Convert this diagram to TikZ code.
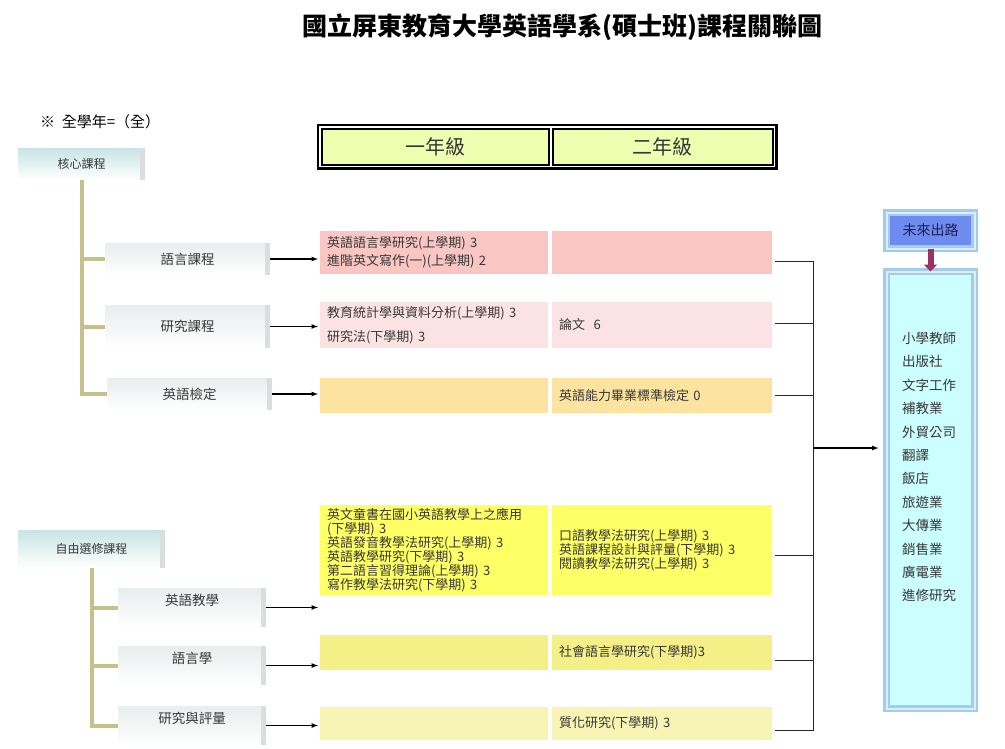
\documentclass[tikz,border=0pt]{standalone}
\usepackage{fontspec}
\setmainfont{Noto Sans CJK TC}
\usetikzlibrary{fit,arrows.meta}
\definecolor{stem}{RGB}{200,192,140}
\definecolor{hdrfill}{RGB}{238,255,176}
\definecolor{rowA}{RGB}{249,198,196}
\definecolor{rowB}{RGB}{252,227,227}
\definecolor{rowC}{RGB}{252,228,160}
\definecolor{rowD}{RGB}{255,255,102}
\definecolor{rowE}{RGB}{245,239,136}
\definecolor{rowF}{RGB}{248,244,180}
\definecolor{coretop}{RGB}{200,228,228}
\definecolor{subtop}{RGB}{232,237,237}
\definecolor{rim}{RGB}{218,222,222}
\definecolor{skyline}{RGB}{160,204,240}
\definecolor{skyfill}{RGB}{204,255,255}
\definecolor{futfill}{RGB}{110,140,240}
\definecolor{futink}{RGB}{30,30,80}
\definecolor{plum}{RGB}{153,51,102}
\definecolor{ink}{RGB}{55,55,55}

\tikzset{
  boxbase/.style={anchor=north west, inner sep=0pt, outer sep=0pt, align=center, bottom color=white, text=ink,
    path picture={\fill[rim] ([xshift=-5pt]path picture bounding box.north east) rectangle (path picture bounding box.south east);}},
  corebox/.style={boxbase, top color=coretop, font=\fontsize{12}{14}\selectfont},
  subbox/.style={boxbase, top color=subtop, font=\fontsize{13.5}{15}\selectfont},
  cell/.style={anchor=north west, inner xsep=7pt, inner ysep=0pt, outer sep=0pt, minimum width=228pt, text width=214pt, align=left, font=\fontsize{13}{14}\selectfont, text=ink},
  cellb/.style={cell, minimum width=220pt, text width=206pt},
  hdrcell/.style={anchor=north west, draw, line width=1.5pt, fill=hdrfill, minimum height=36pt, font=\fontsize{20}{22}\selectfont, text=ink},
  stemline/.style={stem, line width=4pt},
  feed/.style={-latex, line width=1.2pt},
  busline/.style={line width=1pt, black!85},
  skyframe/.style={draw=skyline, line width=2.5pt, double=skyline!35, double distance=2pt, outer sep=0pt, inner sep=0pt, anchor=north west},
}

\begin{document}
\begin{tikzpicture}[x=1pt,y=-1pt]
%%%%% START %%%%%
\useasboundingbox (0,0) rectangle (1005,748);

\node[font=\bfseries\fontsize{25}{27}\selectfont] (title) at (562,27) {國立屏東教育大學英語學系(碩士班)課程關聯圖};
\node[anchor=west, inner sep=0pt, font=\fontsize{15}{17}\selectfont] (note) at (40,122) {※\ \ 全學年=（全）};

% left tree, core
\node[corebox, minimum width=127pt, minimum height=32pt] (core) at (18,148) {核心課程};
\node[subbox, minimum width=165pt, minimum height=32pt] (lang) at (105,243) {語言課程};
\node[subbox, minimum width=165pt, minimum height=43pt] (meth) at (105,305) {研究課程};
\node[subbox, minimum width=165pt, minimum height=32pt] (test) at (107,378) {英語檢定};

\draw[stemline] (core.south) |- (test.west);
\foreach \s in {lang,meth}
	\draw[stemline] (core.south |- \s.west) -- (\s.west);

% left tree, electives
\node[corebox, minimum width=147pt, minimum height=38pt] (elec) at (18,530) {自由選修課程};
\node[subbox, minimum width=148pt, minimum height=39pt] (teach) at (118,588) {英語教學\\\mbox{}};
\node[subbox, minimum width=148pt, minimum height=39pt] (ling) at (118,646) {語言學\\\mbox{}};
\node[subbox, minimum width=148pt, minimum height=39pt] (eval) at (118,706) {研究與評量\\\mbox{}};

\draw[stemline] (elec.south) |- (eval.west);
\foreach \s in {teach,ling}
	\draw[stemline] (elec.south |- \s.west) -- (\s.west);

% header
\node[hdrcell, minimum width=227pt] (yr1) at (321,128) {一年級};
\node[hdrcell, minimum width=220pt] (yr2) at (552,128) {二年級};
\node[fit=(yr1)(yr2), draw, line width=2.5pt, inner sep=3pt] (hdr) {};

% course rows
\node[cell, fill=rowA, minimum height=43pt] (r1a) at (320,231) {英語語言學研究(上學期) 3\\[4pt]進階英文寫作(一)(上學期) 2};
\node[cellb, fill=rowA, minimum height=43pt] (r1b) at (552,231) {};

\node[cell, fill=rowB, minimum height=46pt] (r2a) at (320,302) {教育統計學與資料分析(上學期) 3\\[10pt]研究法(下學期) 3};
\node[cellb, fill=rowB, minimum height=46pt] (r2b) at (552,302) {論文\ \ 6};

\node[cell, fill=rowC, minimum height=35pt] (r3a) at (320,378) {};
\node[cellb, fill=rowC, minimum height=35pt] (r3b) at (552,378) {英語能力畢業標準檢定 0};

\node[cell, fill=rowD, minimum height=90pt] (r4a) at (320,505) {英文童書在國小英語教學上之應用\\(下學期) 3\\英語發音教學法研究(上學期) 3\\英語教學研究(下學期) 3\\第二語言習得理論(上學期) 3\\寫作教學法研究(下學期) 3};
\node[cellb, fill=rowD, minimum height=90pt] (r4b) at (552,505) {口語教學法研究(上學期) 3\\英語課程設計與評量(下學期) 3\\閱讀教學法研究(上學期) 3};

\node[cell, fill=rowE, minimum height=35pt] (r5a) at (320,635) {};
\node[cellb, fill=rowE, minimum height=35pt] (r5b) at (552,635) {社會語言學研究(下學期)3};

\node[cell, fill=rowF, minimum height=33pt] (r6a) at (320,707) {};
\node[cellb, fill=rowF, minimum height=33pt] (r6b) at (552,707) {質化研究(下學期) 3};

\foreach \s in {lang,meth,test,teach,ling,eval}
	\draw[feed, shorten >=2pt] (\s.east) -- (\s.east -| r1a.west);

% bus to the right
\coordinate (bus) at (813,448);
\foreach \r/\dy in {r1b/-8.5,r2b/2,r3b/0,r4b/-5,r5b/-8,r6b/-6.5}
	\draw[busline] ([shift={(3pt,\dy pt)}]\r.east) -| (bus);

% future
\node[skyframe, fill=futfill, minimum width=88pt, minimum height=36pt, font=\fontsize{14}{16}\selectfont, text=futink] (future) at (886.5,212.5) {未來出路};
\node[skyframe, fill=skyfill, minimum width=88pt, minimum height=437pt] (jobs) at (886.5,271.5) {};
\node[anchor=north west, inner sep=0pt, align=left, font=\fontsize{13.5}{23.4}\selectfont, text=ink] (joblist) at (902,332) {小學教師\\出版社\\文字工作\\補教業\\外貿公司\\翻譯\\飯店\\旅遊業\\大傳業\\銷售業\\廣電業\\進修研究};

\draw[plum, line width=6pt, -{Triangle[length=7pt,width=13pt]}] (future.south) -- (jobs.north);
\draw[feed, shorten >=8pt] (bus) -- (bus -| jobs.west);
%%%%% END %%%%%
\end{tikzpicture}
\end{document}
